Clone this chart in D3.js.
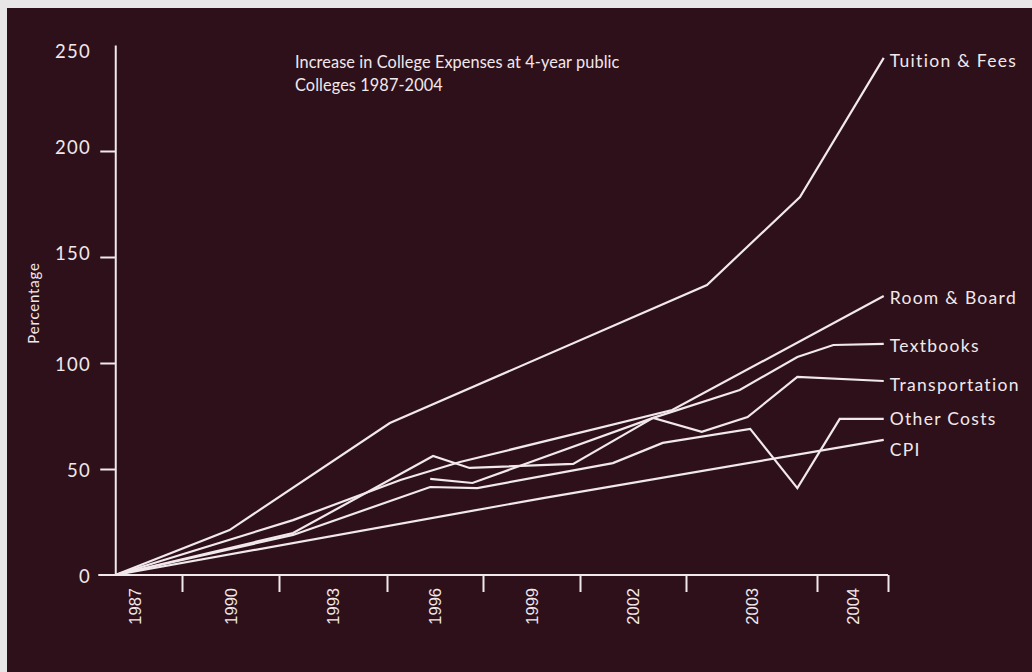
<!DOCTYPE html>
<html><head><meta charset="utf-8">
<script src="https://cdn.jsdelivr.net/npm/d3@7/dist/d3.min.js"></script>
<style>
html,body{margin:0;padding:0;background:#e9e6e8;}
svg{display:block;}
</style></head>
<body>
<svg id="chart" width="1032" height="672"></svg>
<script>
// ---- data ----
const categories = ["1987","1990","1993","1996","1999","2002","2003","2004"];
const yTicks = [0, 50, 100, 150, 200, 250];
const seriesNames = ["Tuition & Fees","Room & Board","Textbooks","Transportation","Other Costs","CPI"];
// x = position along the (irregular) year axis, in category-band units; y = percentage increase
const tuitionFees   = [[0.29,0],[1.49,21.2],[3.03,71.7],[6.16,136.8],[6.87,178.3],[7.94,243.9]];
const roomBoard     = [[0.29,0],[2.13,25.9],[3.14,44.8],[3.76,53.3],[5.87,77.8],[7.94,131.6]];
const textbooks     = [[3.45,45.3],[3.89,43.4],[5.69,74.1],[6.41,87.3],[6.85,102.8],[7.23,108.5],[7.94,109.0]];
const transportation= [[0.29,0],[2.13,19.8],[3.48,56.1],[3.86,50.5],[4.93,52.4],[5.69,74.1],[6.12,67.5],[6.47,74.5],[6.85,93.4],[7.94,91.5]];
const otherCosts    = [[0.29,0],[2.13,18.9],[3.45,41.5],[3.94,41.0],[5.31,52.8],[5.78,62.3],[6.49,68.9],[6.85,41.0],[7.32,73.6],[7.94,73.6]];
const cpi           = [[0.29,0],[4.62,36.3],[7.94,63.7]];
const seriesValues = [tuitionFees, roomBoard, textbooks, transportation, otherCosts, cpi];
const originPos = 0.29;

// ---- styles / layout ----
const BG = "#2d1019";
const FG = "#f1e8ec";
const FONT = "Lato, 'Noto Sans', sans-serif";
const labelDy = [3, 1, 2, 3, 0, 10];

const svg = d3.select("#chart");
svg.append("rect").attr("x",7).attr("y",8).attr("width",1025).attr("height",664).attr("fill",BG);

const x = d3.scaleLinear().domain([0,1,2,3,4,5,6,7,8]).range([88,182,279,387,483,580,686,817,888]);
const y = d3.scaleLinear().domain([0,250]).range([575,45]);

const axisX = x(originPos);
const g = svg.append("g");

// y axis
const yAxis = g.append("g").attr("transform",`translate(${axisX},0)`)
  .call(d3.axisLeft(y).tickValues(yTicks.filter(v=>v>0 && v<250)).tickSize(15).tickFormat("").tickSizeOuter(0));
yAxis.select(".domain").attr("stroke",FG).attr("stroke-width",2);
yAxis.selectAll(".tick line").attr("stroke",FG).attr("stroke-width",2);

g.selectAll("text.ylab").data(yTicks).join("text").attr("class","ylab")
  .attr("x",91).attr("y",d=>y(d)+(d===250?5:0)+(d===200||d===150?-5:0)+1)
  .attr("text-anchor","end").attr("dominant-baseline","central")
  .attr("fill",FG).attr("font-family",FONT).attr("font-size",18.5).attr("letter-spacing",1.3)
  .text(d=>d);

// x axis
const xAxis = g.append("g").attr("transform",`translate(0,${y(0)})`)
  .call(d3.axisBottom(x).tickValues(d3.range(1,categories.length+1)).tickSize(17).tickFormat("").tickSizeOuter(0));
xAxis.select(".domain").remove();
xAxis.selectAll(".tick line").attr("stroke",FG).attr("stroke-width",2);
g.append("line").attr("x1",axisX-17).attr("x2",x(categories.length)).attr("y1",y(0)).attr("y2",y(0))
  .attr("stroke",FG).attr("stroke-width",2);

g.selectAll("text.xlab").data(categories).join("text").attr("class","xlab")
  .attr("transform",(d,i)=>`translate(${x(i+0.5)+6},${y(0)+13}) rotate(-90)`)
  .attr("text-anchor","end")
  .attr("fill",FG).attr("font-family","'Liberation Sans', Arial, sans-serif").attr("font-size",16.5)
  .text(d=>d);

// y axis title
g.append("text").attr("transform",`translate(${39},${303}) rotate(-90)`)
  .attr("text-anchor","middle").attr("fill",FG)
  .attr("font-family",FONT).attr("font-size",15).attr("letter-spacing",0.8).text("Percentage");

// chart title
const title = g.append("text").attr("x",295).attr("y",68).attr("fill",FG)
  .attr("font-family",FONT).attr("font-size",16.3).attr("letter-spacing",0.1);
title.append("tspan").attr("x",295).attr("dy",0).text("Increase in College Expenses at 4-year public");
title.append("tspan").attr("x",295).attr("dy",23).text("Colleges 1987-2004");

// lines
const line = d3.line().x(d=>x(d[0])).y(d=>y(d[1]));
g.selectAll("path.series").data(seriesValues).join("path").attr("class","series")
  .attr("d",line).attr("fill","none").attr("stroke",FG).attr("stroke-width",2.2)
  .attr("stroke-linejoin","miter");

// series labels
g.selectAll("text.slab").data(seriesValues).join("text").attr("class","slab")
  .attr("x",d=>x(d[d.length-1][0])+6)
  .attr("y",(d,i)=>y(d[d.length-1][1])+labelDy[i])
  .attr("dominant-baseline","central")
  .attr("fill",FG).attr("font-family",FONT).attr("font-size",17.5).attr("letter-spacing",1.3)
  .text((d,i)=>seriesNames[i]);
</script>
</body></html>
